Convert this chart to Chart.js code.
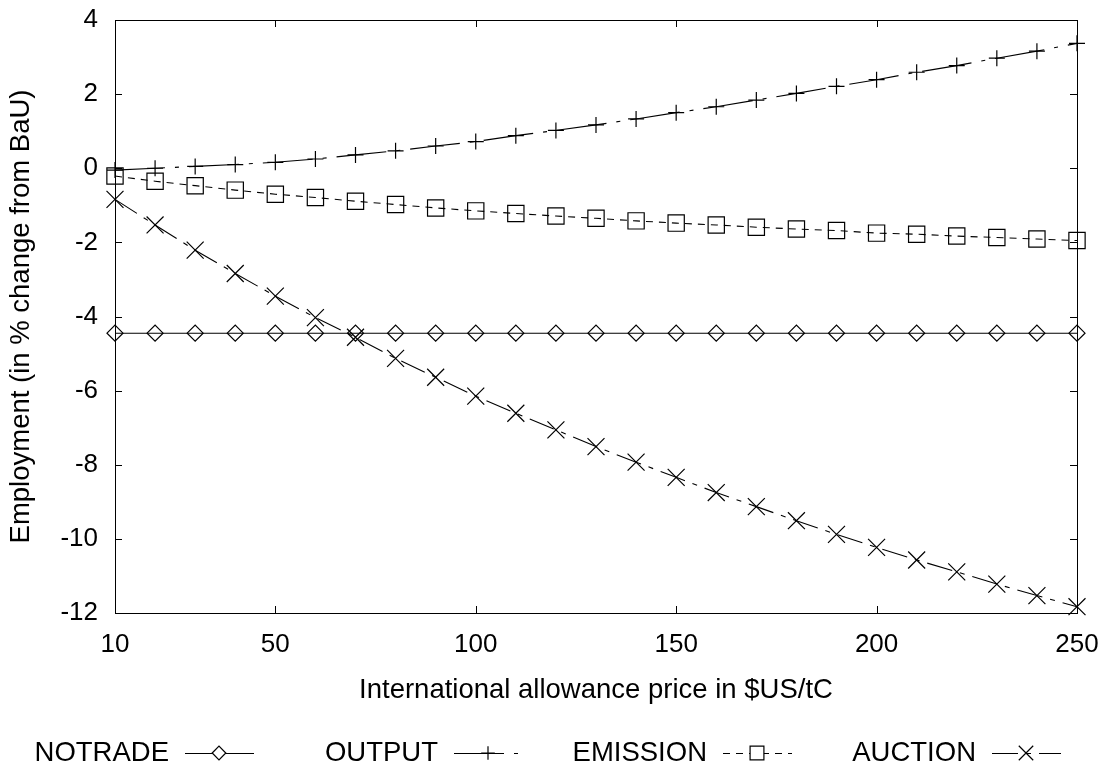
<!DOCTYPE html>
<html lang="en">
<head>
    <meta charset="UTF-8">
    <title>Employment vs allowance price</title>
    <script src="https://cdn.jsdelivr.net/npm/chart.js"></script>
    <style>
        body { margin: 0; background: #fff; }
        .chart-container { width: 1109px; height: 771px; position: relative; }
    </style>
</head>
<body>
    <div class="chart-container">
        <canvas id="employmentChart"></canvas>
    </div>
    <script>
        // x values: international allowance price ($US/tC)
        const prices = [10, 20, 30, 40, 50, 60, 70, 80, 90, 100, 110, 120, 130,
                        140, 150, 160, 170, 180, 190, 200, 210, 220, 230, 240, 250];
        const xTicks = [10, 50, 100, 150, 200, 250];

        // employment, % change from BaU
        const notrade = [-4.45, -4.45, -4.45, -4.45, -4.45, -4.45, -4.45, -4.45, -4.45, -4.45, -4.45, -4.45, -4.45,
                         -4.45, -4.45, -4.45, -4.45, -4.45, -4.45, -4.45, -4.45, -4.45, -4.45, -4.45, -4.45];
        const output = [-0.05, 0.0, 0.05, 0.10, 0.16, 0.25, 0.36, 0.47, 0.60, 0.72, 0.88, 1.02, 1.17,
                        1.33, 1.50, 1.66, 1.84, 2.02, 2.21, 2.39, 2.59, 2.77, 2.97, 3.16, 3.37];
        const emission = [-0.21, -0.35, -0.47, -0.59, -0.70, -0.79, -0.89, -0.98, -1.07, -1.15, -1.22, -1.29, -1.35,
                          -1.42, -1.48, -1.53, -1.59, -1.64, -1.68, -1.75, -1.78, -1.83, -1.87, -1.91, -1.95];
        const auction = [-0.84, -1.53, -2.21, -2.84, -3.45, -4.03, -4.56, -5.13, -5.64, -6.15, -6.61, -7.06, -7.51,
                         -7.93, -8.34, -8.75, -9.13, -9.51, -9.88, -10.23, -10.57, -10.89, -11.22, -11.53, -11.83];

        const FONT = 'Liberation Sans, Arial, sans-serif';

        function series(label, values, pointStyle, radius, dash) {
            return {
                label: label,
                data: prices.map((p, i) => ({ x: p, y: values[i] })),
                borderColor: '#000',
                borderWidth: 1.1,
                borderDash: dash,
                pointStyle: pointStyle,
                pointRadius: radius,
                pointBorderWidth: 1.2,
                pointBorderColor: '#000',
                pointBackgroundColor: 'rgba(0,0,0,0)',
                tension: 0,
                fill: false,
                clip: false
            };
        }

        // box round the plot with inward ticks on all four sides
        const frame = {
            id: 'frame',
            afterDraw(chart) {
                const { ctx, chartArea: a, scales } = chart;
                const len = 7;
                ctx.save();
                ctx.strokeStyle = '#000';
                ctx.lineWidth = 1;
                ctx.strokeRect(a.left + 0.5, a.top + 0.5, a.right - a.left, a.bottom - a.top);
                ctx.beginPath();
                scales.x.ticks.forEach(t => {
                    const px = Math.round(scales.x.getPixelForValue(t.value)) + 0.5;
                    ctx.moveTo(px, a.bottom); ctx.lineTo(px, a.bottom - len);
                    ctx.moveTo(px, a.top); ctx.lineTo(px, a.top + len);
                });
                scales.y.ticks.forEach(t => {
                    const py = Math.round(scales.y.getPixelForValue(t.value)) + 0.5;
                    ctx.moveTo(a.left, py); ctx.lineTo(a.left + len, py);
                    ctx.moveTo(a.right, py); ctx.lineTo(a.right - len, py);
                });
                ctx.stroke();
                ctx.restore();
            }
        };

        // legend along the bottom: label text first, then a line sample with its marker
        const bottomLegend = {
            id: 'bottomLegend',
            afterDraw(chart) {
                const ctx = chart.ctx;
                const y = 753;
                ctx.save();
                ctx.font = '27.5px ' + FONT;
                ctx.textAlign = 'right';
                ctx.textBaseline = 'middle';
                chart.data.datasets.forEach((ds, i) => {
                    const x0 = 185 + i * 269;
                    ctx.fillStyle = '#000';
                    ctx.fillText(ds.label, x0 - 16, y);
                    ctx.beginPath();
                    ctx.strokeStyle = '#000';
                    ctx.lineWidth = 1.1;
                    ctx.setLineDash(ds.borderDash || []);
                    ctx.moveTo(x0, y + 0.5);
                    ctx.lineTo(x0 + 69, y + 0.5);
                    ctx.stroke();
                    ctx.setLineDash([]);
                    ctx.lineWidth = 1.2;
                    ctx.fillStyle = '#fff';
                    Chart.helpers.drawPoint(ctx, {
                        pointStyle: ds.pointStyle,
                        radius: ds.pointRadius * 0.85,
                        borderWidth: 1.2
                    }, x0 + 34, y);
                });
                ctx.restore();
            }
        };

        const ctx = document.getElementById('employmentChart').getContext('2d');
        const employmentChart = new Chart(ctx, {
            type: 'line',
            data: {
                datasets: [
                    series('NOTRADE', notrade, 'rectRot', 8, []),
                    series('OUTPUT', output, 'cross', 8, [50, 10, 4, 10]),
                    series('EMISSION', emission, 'rect', 11.5, [7, 6]),
                    series('AUCTION', auction, 'crossRot', 12, [26, 8, 5, 8])
                ]
            },
            options: {
                responsive: true,
                maintainAspectRatio: false,
                animation: false,
                layout: { padding: { top: 20, right: 32, left: 0, bottom: 64 } },
                plugins: {
                    legend: { display: false },
                    tooltip: { enabled: false }
                },
                scales: {
                    x: {
                        type: 'linear',
                        min: 10,
                        max: 250,
                        afterBuildTicks: scale => {
                            scale.ticks = xTicks.map(v => ({ value: v }));
                        },
                        afterFit: scale => {
                            scale.height = 94;
                            scale.paddingLeft = 0;
                            scale.paddingRight = 0;
                        },
                        grid: { display: false, drawTicks: false },
                        border: { display: false },
                        ticks: {
                            padding: 16,
                            maxRotation: 0,
                            color: '#000',
                            font: { family: FONT, size: 26 }
                        },
                        title: {
                            display: true,
                            text: 'International allowance price in $US/tC',
                            color: '#000',
                            font: { family: FONT, size: 27.5 },
                            padding: 0
                        }
                    },
                    y: {
                        min: -12,
                        max: 4,
                        afterFit: scale => {
                            scale.width = 115;
                            scale.paddingTop = 0;
                            scale.paddingBottom = 0;
                        },
                        grid: { display: false, drawTicks: false },
                        border: { display: false },
                        ticks: {
                            stepSize: 2,
                            padding: 17,
                            color: '#000',
                            font: { family: FONT, size: 26 }
                        },
                        title: {
                            display: true,
                            text: 'Employment (in % change from BaU)',
                            color: '#000',
                            font: { family: FONT, size: 27.5 },
                            padding: { top: 5, bottom: 0 }
                        }
                    }
                }
            },
            plugins: [frame, bottomLegend]
        });
    </script>
</body>
</html>
